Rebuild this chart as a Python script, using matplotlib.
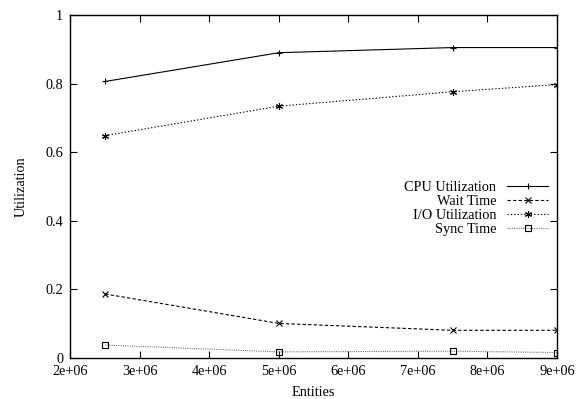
import matplotlib
matplotlib.use("Agg")
import matplotlib.pyplot as plt

plt.rcParams['font.family'] = ['Liberation Serif', 'DejaVu Serif']
plt.rcParams['font.size'] = 10.3

# Measured utilization per run size
entities = [2.5e6, 5e6, 7.5e6, 9e6]
cpu_util = [0.806, 0.890, 0.905, 0.905]
wait_time = [0.186, 0.100, 0.080, 0.080]
io_util = [0.648, 0.734, 0.776, 0.797]
sync_time = [0.037, 0.017, 0.019, 0.015]

x_ticks = [2e6, 3e6, 4e6, 5e6, 6e6, 7e6, 8e6, 9e6]
x_labels = ["2e+06", "3e+06", "4e+06", "5e+06", "6e+06", "7e+06", "8e+06", "9e+06"]
y_ticks = [0, 0.2, 0.4, 0.6, 0.8, 1]
y_labels = ["0", "0.2", "0.4", "0.6", "0.8", "1"]

fig = plt.figure(figsize=(5.88, 3.99), dpi=100)
ax = fig.add_axes([0.1196, 0.1035, 0.8276, 0.8589])

lw = 0.8
ax.plot(entities, cpu_util, color="black", lw=lw, ls="-", marker="+",
        ms=5, mew=0.8, label="CPU Utilization")
ax.plot(entities, wait_time, color="black", lw=lw, ls=(0, (3, 2)), marker="x",
        ms=4, mew=0.8, label="Wait Time")
ax.plot(entities, io_util, color="black", lw=lw, ls=(0, (1.2, 1.8)), marker=(6, 2, 0),
        ms=5, mew=0.8, label="I/O Utilization")
ax.plot(entities, sync_time, color="#777777", lw=lw, ls=(0, (1, 1)), marker="s",
        ms=4, mew=0.8, mfc="none", mec="black", label="Sync Time")

ax.set_xlim(2e6, 9e6)
ax.set_ylim(0, 1)
ax.set_xticks(x_ticks)
ax.set_xticklabels(x_labels)
ax.set_yticks(y_ticks)
ax.set_yticklabels(y_labels)
ax.tick_params(direction="in", length=5, width=0.8, top=True, right=True, pad=5)
for s in ax.spines.values():
    s.set_linewidth(1.0)

ax.set_xlabel("Entities", labelpad=6)
ax.set_ylabel("Utilization", labelpad=13)

ax.legend(loc="upper right", bbox_to_anchor=(0.997, 0.537), frameon=False,
          markerfirst=False, handlelength=2.9, handletextpad=0.75,
          labelspacing=0.08, borderpad=0)

fig.savefig("out.png", dpi=100)
